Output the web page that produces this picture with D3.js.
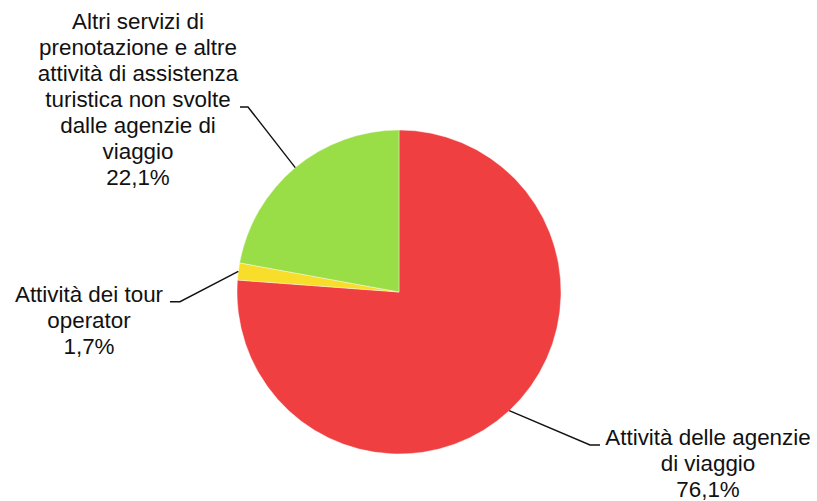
<!DOCTYPE html>
<html>
<head>
<meta charset="utf-8">
<script src="https://cdn.jsdelivr.net/npm/d3@7"></script>
<style>
  html, body { margin: 0; padding: 0; background: #fff; }
  svg { display: block; }
  text { font-family: "Liberation Sans", Arial, Helvetica, sans-serif; fill: #111; }
</style>
</head>
<body>
<svg id="chart" width="817" height="501"></svg>
<script>
// Shares of the tourism-services sector (percent)
const categories = [
  "Attività delle agenzie di viaggio",
  "Attività dei tour operator",
  "Altri servizi di prenotazione e altre attività di assistenza turistica non svolte dalle agenzie di viaggio"
];
const values = [76.1, 1.7, 22.1];
const valueLabels = ["76,1%", "1,7%", "22,1%"];
const labelLines = [
  ["Attività delle agenzie", "di viaggio"],
  ["Attività dei tour", "operator"],
  ["Altri servizi di", "prenotazione e altre", "attività di assistenza", "turistica non svolte", "dalle agenzie di", "viaggio"]
];
const colors = ["#f03f40", "#f8de2b", "#9ade47"];

// layout
const cx = 399, cy = 292, radius = 162;
const fontSize = 22.4, lineHeight = 26.1;
// leader elbow, end of short horizontal tick, text centre, and which text line the tick points at
const callouts = [
  { elbow: [191, 153], tickEnd: [201, 153], textX: 309, anchorLine: 0 },
  { elbow: [-219, 9.7], tickEnd: [-229, 9.7], textX: -310, anchorLine: 0 },
  { elbow: [-151, -185], tickEnd: [-159, -185], textX: -261, anchorLine: 3 }
];

const svg = d3.select("#chart");
const g = svg.append("g").attr("transform", `translate(${cx},${cy})`);

const pie = d3.pie().sort(null).value(d => d)(values);
const arc = d3.arc().innerRadius(0).outerRadius(radius);
const edgeArc = d3.arc().innerRadius(radius).outerRadius(radius);

g.selectAll("path.slice")
  .data(pie)
  .join("path")
  .attr("class", "slice")
  .attr("d", arc)
  .attr("fill", (d, i) => colors[i])
  .attr("stroke", "#fff")
  .attr("stroke-width", 0.4);

// leader lines from the slice edge to the label
g.selectAll("polyline.leader")
  .data(pie)
  .join("polyline")
  .attr("class", "leader")
  .attr("fill", "none")
  .attr("stroke", "#111")
  .attr("stroke-width", 1.4)
  .attr("points", (d, i) => {
    const c = callouts[i];
    return [edgeArc.centroid(d), c.elbow, c.tickEnd].map(p => p.join(",")).join(" ");
  });

// multi-line labels with the percentage on the last line
const labels = g.selectAll("text.label")
  .data(pie)
  .join("text")
  .attr("class", "label")
  .attr("text-anchor", "middle")
  .attr("font-size", fontSize);

labels.each(function (d, i) {
  const c = callouts[i];
  const lines = labelLines[i].concat([valueLabels[i]]);
  const firstBaseline = c.tickEnd[1] - c.anchorLine * lineHeight;
  d3.select(this).selectAll("tspan")
    .data(lines)
    .join("tspan")
    .attr("x", c.textX)
    .attr("y", (t, k) => firstBaseline + k * lineHeight)
    .text(t => t);
});
</script>
</body>
</html>
